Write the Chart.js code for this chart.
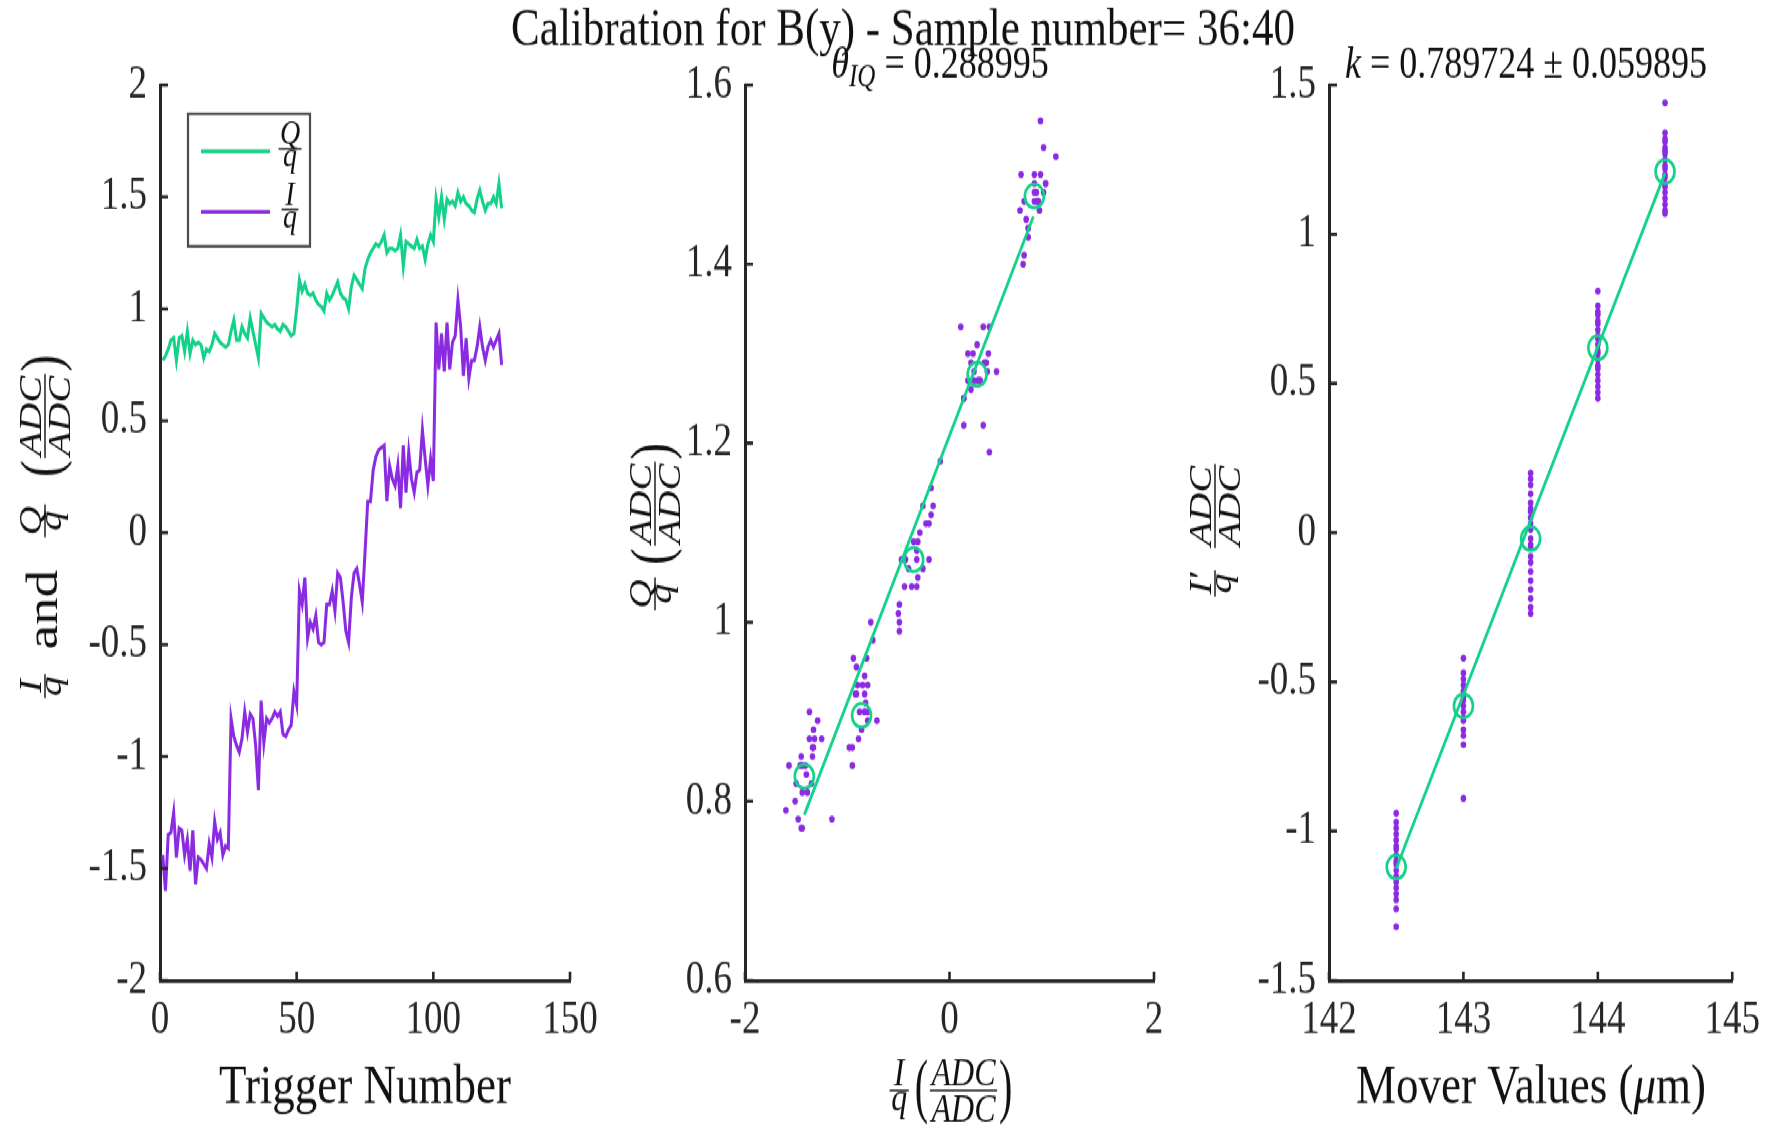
<!DOCTYPE html>
<html>
<head>
<meta charset="utf-8">
<title>Calibration for B(y)</title>
<script src="https://cdn.jsdelivr.net/npm/chart.js@4.4.1/dist/chart.umd.min.js"></script>
<style>
  html, body { margin: 0; padding: 0; background: #fff; overflow: hidden; }
  /* the original figure is stretched vertically, so draw flat and stretch the whole block */
  #fig { position: absolute; left: 0; top: 0; width: 1770px; height: 902px; transform-origin: 0 0; transform: scaleY(1.250554); }
  #fig canvas { position: absolute; left: 0; top: 0; width: 1770px; height: 902px; }
</style>
</head>
<body>
<div id="fig">
  <canvas id="c-trig" width="1770" height="902"></canvas>
  <canvas id="c-iq" width="1770" height="902"></canvas>
  <canvas id="c-mover" width="1770" height="902"></canvas>
</div>
<script>
const FONT = '"Liberation Serif", "DejaVu Serif", serif';
const INK = '#262626';
const TEXT = '#111';
const GREEN = '#12d188';
const PURPLE = '#8a2be2';

// left panel: per-trigger values
const triggers = Array.from({ length: 125 }, (_, i) => i + 1);
const qOverQ = [
  0.77, 0.79, 0.82, 0.86, 0.87, 0.77, 0.87, 0.88, 0.81, 0.90,
  0.80, 0.86, 0.84, 0.85, 0.84, 0.78, 0.82, 0.81, 0.84, 0.89,
  0.87, 0.85, 0.84, 0.83, 0.84, 0.90, 0.95, 0.86, 0.86, 0.92,
  0.89, 0.87, 0.96, 0.90, 0.84, 0.78, 0.98, 0.96, 0.94, 0.93,
  0.92, 0.93, 0.91, 0.90, 0.93, 0.92, 0.90, 0.88, 0.89, 1.00,
  1.13, 1.08, 1.11, 1.07, 1.06, 1.07, 1.04, 1.02, 1.01, 0.99,
  1.07, 1.04, 1.06, 1.09, 1.12, 1.07, 1.05, 1.04, 1.00, 1.10,
  1.15, 1.13, 1.11, 1.09, 1.18, 1.22, 1.25, 1.27, 1.29, 1.28,
  1.30, 1.33, 1.25, 1.27, 1.27, 1.26, 1.27, 1.33, 1.19, 1.30,
  1.29, 1.28, 1.27, 1.31, 1.27, 1.28, 1.22, 1.29, 1.33, 1.30,
  1.49, 1.41, 1.50, 1.40, 1.49, 1.47, 1.48, 1.46, 1.52, 1.48,
  1.50, 1.47, 1.46, 1.44, 1.43, 1.49, 1.53, 1.48, 1.44, 1.47,
  1.47, 1.50, 1.47, 1.56, 1.45
];
const iOverQ = [
  -1.44, -1.60, -1.35, -1.34, -1.25, -1.45, -1.32, -1.33, -1.44, -1.37,
  -1.51, -1.33, -1.57, -1.45, -1.46, -1.48, -1.50, -1.39, -1.45, -1.29,
  -1.37, -1.34, -1.44, -1.40, -1.41, -0.83, -0.91, -0.95, -0.98, -0.92,
  -0.80, -0.89, -0.81, -0.83, -0.95, -1.15, -0.75, -0.94, -0.83, -0.85,
  -0.83, -0.80, -0.82, -0.80, -0.90, -0.91, -0.88, -0.86, -0.71, -0.77,
  -0.26, -0.32, -0.20, -0.47, -0.40, -0.43, -0.37, -0.49, -0.50, -0.49,
  -0.32, -0.32, -0.26, -0.35, -0.18, -0.20, -0.31, -0.44, -0.49, -0.29,
  -0.18, -0.16, -0.23, -0.31, -0.09, 0.14, 0.14, 0.28, 0.34, 0.37,
  0.38, 0.39, 0.14, 0.30, 0.24, 0.21, 0.30, 0.11, 0.39, 0.18,
  0.36, 0.24, 0.18, 0.27, 0.28, 0.46, 0.33, 0.21, 0.33, 0.23,
  0.94, 0.73, 0.89, 0.72, 0.94, 0.73, 0.85, 0.88, 1.04, 0.92,
  0.70, 0.87, 0.69, 0.77, 0.77, 0.83, 0.92, 0.83, 0.77, 0.83,
  0.86, 0.83, 0.86, 0.89, 0.75
];

// middle panel: step means and fitted line in the I/Q plane
const stepMeanI = [-1.42, -0.86, -0.35, 0.27, 0.83];
const stepMeanQ = [0.828, 0.896, 1.070, 1.277, 1.476];
const iqFitI = [-1.42, 0.82];
const iqFitQ = [0.785, 1.453];

// right panel: rotated I per mover position
const moverSteps = [142.5, 143, 143.5, 144, 144.5];
const rotatedI = [
  [-0.94, -0.97, -0.99, -1.01, -1.03, -1.05, -1.06, -1.08, -1.10, -1.11, -1.13, -1.15, -1.17, -1.19, -1.21, -1.23, -1.26, -1.32],
  [-0.42, -0.47, -0.49, -0.51, -0.53, -0.55, -0.56, -0.58, -0.60, -0.62, -0.63, -0.66, -0.68, -0.71, -0.89],
  [0.20, 0.18, 0.16, 0.13, 0.10, 0.08, 0.07, 0.05, 0.03, 0.01, -0.02, -0.04, -0.05, -0.08, -0.10, -0.13, -0.16, -0.19, -0.22, -0.25, -0.27],
  [0.81, 0.76, 0.74, 0.73, 0.71, 0.70, 0.68, 0.66, 0.65, 0.63, 0.61, 0.60, 0.58, 0.56, 0.55, 0.53, 0.51, 0.49, 0.47, 0.45],
  [1.44, 1.34, 1.32, 1.31, 1.29, 1.28, 1.27, 1.25, 1.23, 1.22, 1.20, 1.19, 1.17, 1.16, 1.14, 1.12, 1.10, 1.08, 1.07]
];
const rotatedMean = [-1.12, -0.58, -0.02, 0.62, 1.21];
const moverFitX = [142.5, 144.5];
const moverFitY = [-1.125, 1.205];

// tick values
const trigXTicks = [0, 50, 100, 150];
const trigYTicks = [-2, -1.5, -1, -0.5, 0, 0.5, 1, 1.5, 2];
const iqXTicks = [-2, 0, 2];
const iqYTicks = [0.6, 0.8, 1, 1.2, 1.4, 1.6];
const moverXTicks = [142, 143, 144, 145];
const moverYTicks = [-1.5, -1, -0.5, 0, 0.5, 1, 1.5];

// ---- text helpers (fractions etc.) ----
const italic = s => `italic ${s}px ${FONT}`;
const roman = s => `${s}px ${FONT}`;
const frac = (num, den, size, lowDen) => ({ t: 'frac', num, den, size, lowDen });
const txt = (s, font, dy, sy) => ({ t: 'txt', s, font, dy: dy || 0, sy: sy || 1 });
const gap = w => ({ t: 'gap', w });
const paren = (s, size) => txt(s, roman(size), size * 0.25, 1.45);

function rowWidth(ctx, pieces) {
  let total = 0;
  pieces.forEach(p => {
    if (p.t === 'frac') {
      ctx.font = italic(p.size);
      p.w = Math.max(ctx.measureText(p.num).width, ctx.measureText(p.den).width) + p.size * 0.22;
    } else if (p.t === 'txt') {
      ctx.font = p.font;
      p.w = ctx.measureText(p.s).width;
    }
    total += p.w;
  });
  return total;
}

function drawRow(ctx, pieces, cx, cy, color) {
  let x = cx - rowWidth(ctx, pieces) / 2;
  ctx.fillStyle = color;
  ctx.textBaseline = 'alphabetic';
  pieces.forEach(p => {
    if (p.t === 'frac') {
      const mid = x + p.w / 2;
      ctx.font = italic(p.size);
      ctx.textAlign = 'center';
      ctx.fillText(p.num, mid, cy - p.size * 0.13);
      ctx.fillText(p.den, mid, cy + p.size * (p.lowDen ? 0.5 : 0.78));
      ctx.fillRect(x + p.size * 0.06, cy - 0.7, p.w - p.size * 0.12, 1.4);
    } else if (p.t === 'txt') {
      ctx.font = p.font;
      ctx.textAlign = 'left';
      ctx.save();
      ctx.translate(x, cy);
      ctx.scale(1, p.sy);
      ctx.fillText(p.s, 0, p.dy);
      ctx.restore();
    }
    x += p.w;
  });
}

function drawRotRow(ctx, pieces, x, y, color) {
  ctx.save();
  ctx.translate(x, y);
  ctx.rotate(-Math.PI / 2);
  drawRow(ctx, pieces, 0, 0, color);
  ctx.restore();
}

// inward MATLAB-style tick marks
const inwardTicks = {
  id: 'inwardTicks',
  afterDraw(chart) {
    const { ctx, chartArea: a, scales: { x, y } } = chart;
    ctx.save();
    ctx.strokeStyle = INK;
    ctx.lineWidth = 2.6;
    ctx.beginPath();
    y.ticks.forEach(t => { const p = y.getPixelForValue(t.value); ctx.moveTo(a.left, p); ctx.lineTo(a.left + 8, p); });
    x.ticks.forEach(t => { const p = x.getPixelForValue(t.value); ctx.moveTo(p, a.bottom); ctx.lineTo(p, a.bottom - 7); });
    ctx.stroke();
    ctx.restore();
  }
};

// fixed label bands so every panel's plot box lands where the figure has it
const Y_BAND = 150;
const X_BAND = 110;

function axis(min, max, ticks, horizontal) {
  return {
    type: 'linear', min, max,
    afterBuildTicks: s => { s.ticks = ticks.map(v => ({ value: v })); },
    afterFit: s => { if (horizontal) s.height = X_BAND; else s.width = Y_BAND; },
    grid: { display: false, drawTicks: false },
    border: { display: true, color: INK, width: 3 },
    ticks: {
      color: INK, font: { family: FONT, size: 37 },
      padding: horizontal ? 10 : 13, autoSkip: false, maxRotation: 0, minRotation: 0,
      callback: v => String(v)
    }
  };
}

function options(plotLeft, plotRight, xs, ys) {
  return {
    responsive: false, animation: false, devicePixelRatio: 1, events: [],
    layout: { padding: { left: plotLeft - Y_BAND, right: 1770 - plotRight, top: 68, bottom: 118 - X_BAND } },
    plugins: { legend: { display: false }, title: { display: false }, tooltip: { enabled: false } },
    scales: { x: xs, y: ys }
  };
}

// ---- left: Q/q and I/q vs trigger ----
new Chart(document.getElementById('c-trig'), {
  type: 'line',
  data: {
    datasets: [
      { label: 'Q/q', data: triggers.map((t, i) => ({ x: t, y: qOverQ[i] })), borderColor: GREEN, borderWidth: 3, pointRadius: 0, tension: 0 },
      { label: 'I/q', data: triggers.map((t, i) => ({ x: t, y: iOverQ[i] })), borderColor: PURPLE, borderWidth: 3, pointRadius: 0, tension: 0 }
    ]
  },
  options: options(160, 570, axis(0, 150, trigXTicks, true), axis(-2, 2, trigYTicks, false)),
  plugins: [inwardTicks, {
    id: 'trigText',
    afterDraw(chart) {
      const ctx = chart.ctx;
      // legend
      ctx.save();
      ctx.strokeStyle = '#4d4d4d';
      ctx.lineWidth = 2.2;
      ctx.strokeRect(188, 91, 122, 106);
      chart.data.datasets.forEach((ds, i) => {
        const yy = 121 + i * 48.5;
        ctx.strokeStyle = ds.borderColor;
        ctx.lineWidth = 2.8;
        ctx.beginPath(); ctx.moveTo(201, yy); ctx.lineTo(270, yy); ctx.stroke();
        const [num, den] = ds.label.split('/');
        drawRow(ctx, [frac(num, den, 28, true)], 290, yy - 2, TEXT);
      });
      ctx.restore();
      drawRow(ctx, [txt('Trigger Number', roman(45))], 365, 882, TEXT);
      drawRotRow(ctx, [
        frac('I', 'q', 32, true), gap(18), txt('and', roman(44), 12), gap(24),
        frac('Q', 'q', 32, true), gap(20), paren('(', 40), frac('ADC', 'ADC', 32), paren(')', 40)
      ], 45, 422, TEXT);
    }
  }]
});

// ---- middle: Q/q vs I/q ----
new Chart(document.getElementById('c-iq'), {
  type: 'scatter',
  data: {
    datasets: [
      { data: iqFitI.map((x, i) => ({ x, y: iqFitQ[i] })), showLine: true, borderColor: GREEN, borderWidth: 2.8, pointRadius: 0, order: 0 },
      { data: stepMeanI.map((x, i) => ({ x, y: stepMeanQ[i] })), pointRadius: 9.5, pointBorderColor: GREEN, pointBorderWidth: 2.6, pointBackgroundColor: 'rgba(0,0,0,0)', order: 1 },
      { data: iOverQ.map((x, i) => ({ x, y: qOverQ[i] })), pointRadius: 2.8, pointBorderWidth: 0, pointBackgroundColor: PURPLE, order: 2 }
    ]
  },
  options: options(745, 1154, axis(-2, 2, iqXTicks, true), axis(0.6, 1.6, iqYTicks, false)),
  plugins: [inwardTicks, {
    id: 'iqText',
    afterDraw(chart) {
      const ctx = chart.ctx;
      drawRow(ctx, [txt('Calibration for B(y) - Sample number= 36:40', roman(43))], 903, 36, TEXT);
      drawRow(ctx, [txt('θ', italic(36)), txt('IQ', italic(25), 7), txt(' = 0.288995', roman(36))], 940, 62, TEXT);
      drawRow(ctx, [frac('I', 'q', 32, true), gap(4), paren('(', 40), frac('ADC', 'ADC', 32), paren(')', 40)], 950, 872, TEXT);
      drawRotRow(ctx, [frac('Q', 'q', 32, true), gap(8), paren('(', 40), frac('ADC', 'ADC', 32), paren(')', 40)], 655, 422, TEXT);
    }
  }]
});

// ---- right: rotated I vs mover position ----
const moverDots = [];
moverSteps.forEach((m, i) => rotatedI[i].forEach(v => moverDots.push({ x: m, y: v })));

new Chart(document.getElementById('c-mover'), {
  type: 'scatter',
  data: {
    datasets: [
      { data: moverFitX.map((x, i) => ({ x, y: moverFitY[i] })), showLine: true, borderColor: GREEN, borderWidth: 2.8, pointRadius: 0, order: 0 },
      { data: moverSteps.map((x, i) => ({ x, y: rotatedMean[i] })), pointRadius: 9.5, pointBorderColor: GREEN, pointBorderWidth: 2.6, pointBackgroundColor: 'rgba(0,0,0,0)', order: 1 },
      { data: moverDots, pointRadius: 2.8, pointBorderWidth: 0, pointBackgroundColor: PURPLE, order: 2 }
    ]
  },
  options: options(1329, 1733, axis(142, 145, moverXTicks, true), axis(-1.5, 1.5, moverYTicks, false)),
  plugins: [inwardTicks, {
    id: 'moverText',
    afterDraw(chart) {
      const ctx = chart.ctx;
      drawRow(ctx, [txt('k', italic(36)), txt(' = 0.789724 ± 0.059895', roman(36))], 1526, 62, TEXT);
      drawRow(ctx, [txt('Mover Values (', roman(45)), txt('μ', italic(45)), txt('m)', roman(45))], 1531, 882, TEXT);
      drawRotRow(ctx, [frac('I′', 'q', 32, true), gap(14), frac('ADC', 'ADC', 32)], 1215, 424, TEXT);
    }
  }]
});
</script>
</body>
</html>
